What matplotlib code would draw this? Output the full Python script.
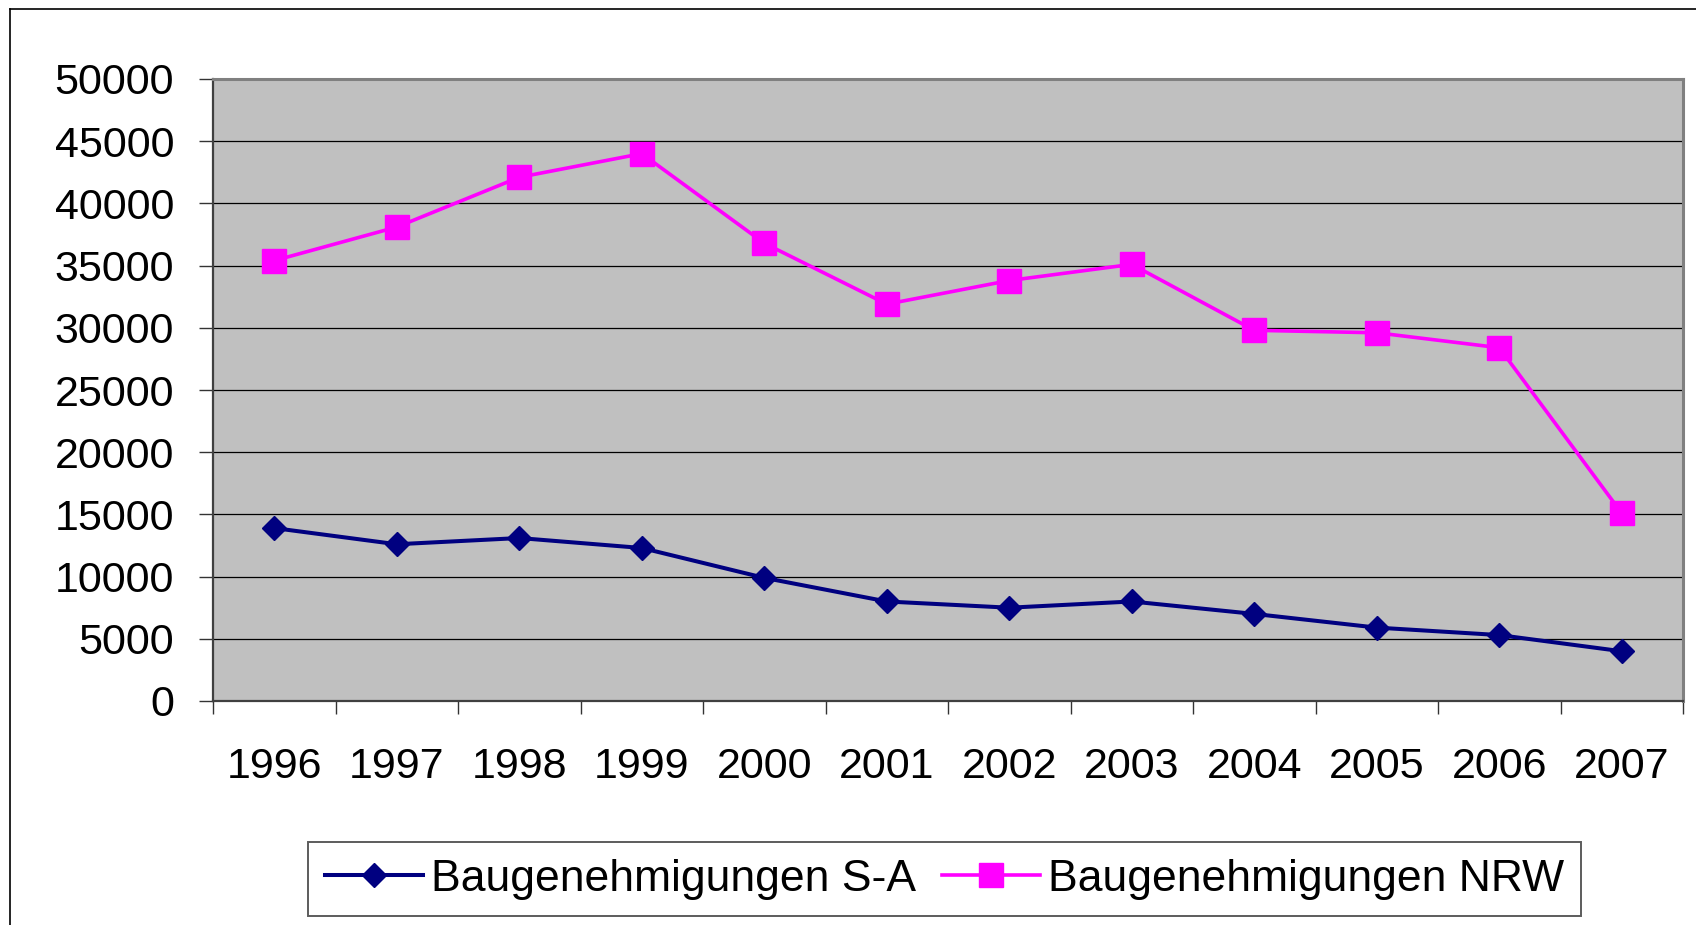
import matplotlib
matplotlib.use("Agg")
import matplotlib.pyplot as plt
from matplotlib.lines import Line2D

plt.rcParams["font.family"] = ["Liberation Sans", "DejaVu Sans"]

# Data
years = ["1996", "1997", "1998", "1999", "2000", "2001",
         "2002", "2003", "2004", "2005", "2006", "2007"]
sa_values = [13900, 12600, 13100, 12300, 9900, 8000,
             7500, 8000, 7000, 5900, 5300, 4000]
nrw_values = [35400, 38100, 42100, 44000, 36800, 31900,
              33800, 35100, 29800, 29600, 28400, 15100]
y_ticks = [0, 5000, 10000, 15000, 20000, 25000,
           30000, 35000, 40000, 45000, 50000]

W, H = 1696, 925
fig = plt.figure(figsize=(W / 100, H / 100), dpi=100)
fig.patch.set_facecolor("white")

# outer chart frame (only left and top edges are visible)
fig.add_artist(Line2D([10 / W, 10 / W], [0, 1 - 9 / H], transform=fig.transFigure,
                      color="black", lw=1.2))
fig.add_artist(Line2D([10 / W, 1], [1 - 9 / H, 1 - 9 / H], transform=fig.transFigure,
                      color="black", lw=1.2))

left, right, top, bottom = 213, 1683, 79, 701
ax = fig.add_axes([left / W, 1 - bottom / H, (right - left) / W, (bottom - top) / H])
ax.set_facecolor("#C0C0C0")

x = list(range(len(years)))
ax.plot(x, sa_values, color="#000080", lw=2.9, marker="D", ms=12.5,
        label="Baugenehmigungen S-A", zorder=3)
ax.plot(x, nrw_values, color="#FF00FF", lw=2.6, marker="s", ms=17,
        label="Baugenehmigungen NRW", zorder=3)

ax.set_xlim(-0.5, len(years) - 0.5)
ax.set_ylim(0, 50000)

ax.set_yticks(y_ticks)
ax.set_yticklabels([str(v) for v in y_ticks])
ax.yaxis.grid(True, color="black", lw=0.9)
ax.set_axisbelow(True)

ax.set_xticks(x)
ax.set_xticklabels(years)
ax.set_xticks([i - 0.5 for i in range(len(years) + 1)], minor=True)

ax.tick_params(axis="y", which="major", direction="out", length=10, width=1,
               color="#333333", pad=18, labelsize=31)
ax.tick_params(axis="x", which="major", length=0, pad=33, labelsize=31)
ax.tick_params(axis="x", which="minor", direction="out", length=9.5, width=1,
               color="#333333")

for side in ["top", "right"]:
    ax.spines[side].set_color("#808080")
    ax.spines[side].set_linewidth(2.2)
for side in ["left", "bottom"]:
    ax.spines[side].set_color("#404040")
    ax.spines[side].set_linewidth(1.6)

leg = fig.legend(loc="center", bbox_to_anchor=((295 + 1594) / 2 / W, 1 - 879 / H),
                 ncol=2, fontsize=32, frameon=True, fancybox=False,
                 handlelength=2.2, handletextpad=0.18, columnspacing=0.6,
                 borderpad=0.38)
leg.get_frame().set_edgecolor("#333333")
leg.get_frame().set_linewidth(1.4)

fig.savefig("out.png", dpi=100)
